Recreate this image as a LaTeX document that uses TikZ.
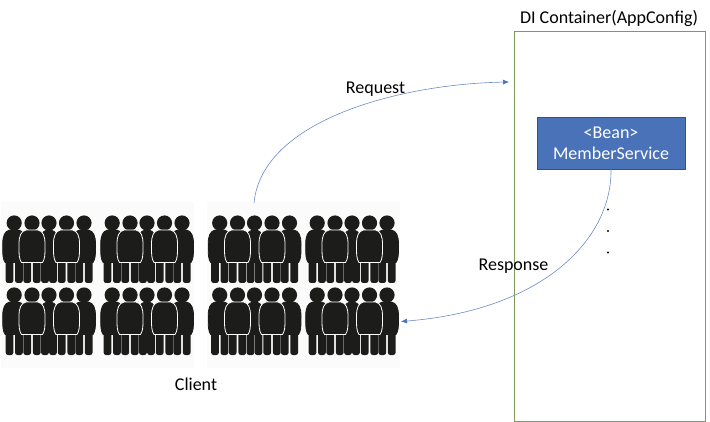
\documentclass[tikz,border=0pt]{standalone}
\usepackage{fontspec}
\setmainfont{Carlito}
\usetikzlibrary{arrows.meta}
\definecolor{boxgreen}{HTML}{7F9A5C}
\definecolor{beanblue}{HTML}{4A72B8}
\definecolor{beanedge}{HTML}{2F528F}
\definecolor{linkblue}{HTML}{6F8CC8}
\definecolor{ink}{HTML}{1C1C1A}
\newcommand{\onefig}[4]{% cx, half body width, half leg spread, outline colour
  \fill[ink] (#1,8) circle (7.6);
  \fill[ink,rounded corners=2.5pt] (#1-#3-3.9,36) rectangle (#1-#3+3.9,68);
  \fill[ink,rounded corners=2.5pt] (#1+#3-3.9,36) rectangle (#1+#3+3.9,68);
  \path[fill=ink,draw=#4,line width=0.8pt] (#1-#2+2.5,47.5) .. controls (#1-#2,44) and (#1-#2,40) .. (#1-#2,29)
     .. controls (#1-#2,21) and (#1-#2+2,16) .. (#1-#2+7,15) -- (#1+#2-7,15)
     .. controls (#1+#2-2,16) and (#1+#2,21) .. (#1+#2,29)
     .. controls (#1+#2,40) and (#1+#2,44) .. (#1+#2-2.5,47.5) -- cycle;
}
\tikzset{
  crowd/.pic={
    \onefig{13.2}{11.5}{4.7}{ink}
    \onefig{48}{9}{4.0}{ink}
    \onefig{83}{11.5}{4.7}{ink}
    \onefig{31}{13}{4.8}{white}
    \onefig{65.5}{13}{4.8}{white}
  },
  label/.style={font=\fontsize{18}{21}\selectfont,inner sep=0pt,text=black},
  flow/.style={draw=linkblue,line width=0.6pt,-{Latex[length=6pt,width=5pt,color=beanblue]}},
}
\begin{document}
\begin{tikzpicture}[x=1pt,y=-1pt]
\useasboundingbox (0,0) rectangle (710,422);
\fill[white] (0,0) rectangle (710,422);
\fill[black!1.5] (1,202) rectangle (194,368);
\fill[black!1.5] (207,202) rectangle (400,368);
\foreach \px/\py in {1/215,99/215,206.5/215,304/215,1/287,99/287,206.5/287,304/287}
  \pic at (\px,\py) {crowd};
\node[draw=boxgreen,line width=0.8pt,inner sep=0pt,anchor=north west,minimum width=191pt,minimum height=389pt] (container) at (513.5,31.5) {};
\node[label,anchor=base] (title) at (609,23.5) {DI Container(AppConfig)};
\node[fill=beanblue,draw=beanedge,line width=0.6pt,anchor=north west,minimum width=147.5pt,minimum height=52pt,inner sep=0pt,align=center,text=white,font=\fontsize{18}{20.5}\selectfont] (bean) at (537,117) {<Bean>\\MemberService};
\node[label] (req) at (375.5,89.5) {Request};
\node[label] (resp) at (513.5,266) {Response};
\node[label] (client) at (196,384) {Client};
\foreach \n/\y in {d1/209.5,d2/231,d3/252.5}
  \fill[black] (608,\y) circle (1.1pt);
\coordinate (reqstart) at (254,203);
\coordinate (reqend) at (509,82);
\coordinate (respend) at (401,321.5);
\coordinate (respstart) at (611,169.5);
\draw[flow] (reqstart) .. controls (262,120) and (400,84) .. (reqend);
\draw[flow] (respstart) .. controls (612,238) and (545,310) .. (respend);
\end{tikzpicture}
\end{document}
